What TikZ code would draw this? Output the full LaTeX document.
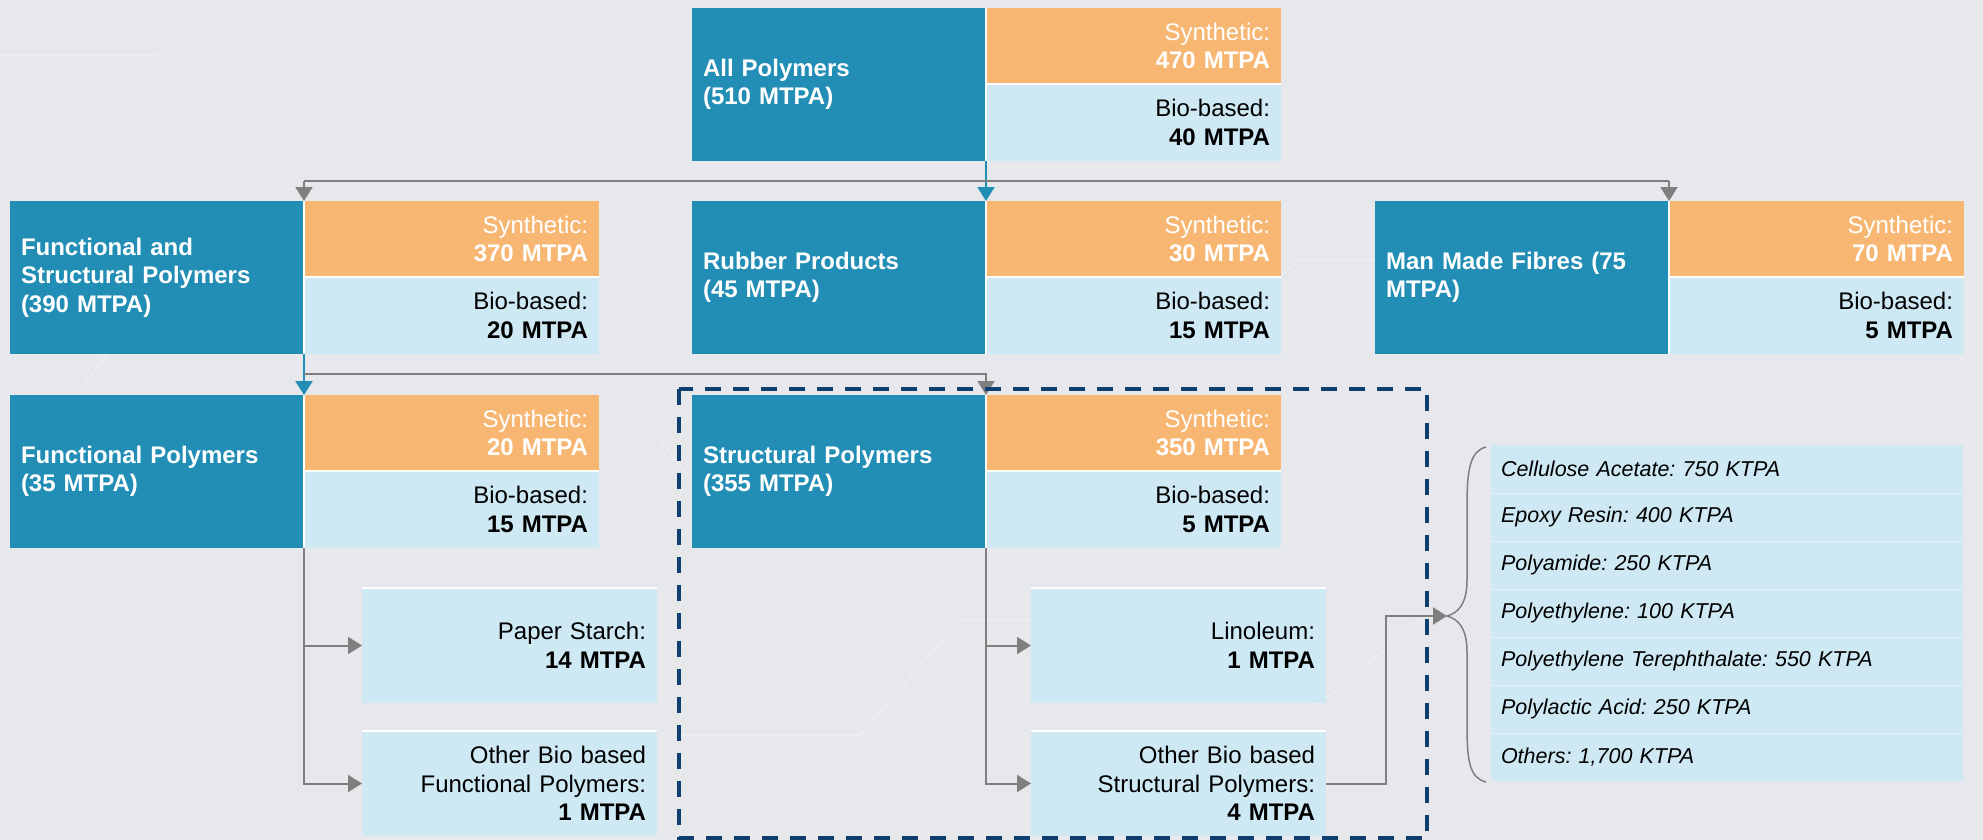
\documentclass[tikz,border=0pt]{standalone}
\usepackage{fontspec}
\setmainfont{Liberation Sans}
\usetikzlibrary{arrows.meta,calc}
\frenchspacing
\definecolor{bg}{RGB}{230,232,236}
\definecolor{dk}{RGB}{34,142,182}
\definecolor{og}{RGB}{247,183,115}
\definecolor{lb}{RGB}{206,233,244}
\definecolor{gr}{RGB}{127,127,127}
\definecolor{nv}{RGB}{14,63,110}
\newcommand\fsmain{\fontsize{24pt}{28.5pt}\selectfont}
\newcommand\fslist{\fontsize{21.5pt}{24pt}\selectfont}
\tikzset{
  darkbox/.style={anchor=north west, fill=dk, text=white, font=\bfseries\fsmain,
    minimum width=294pt, minimum height=#1, text width=272pt, inner xsep=11pt,
    inner ysep=0pt, outer sep=0pt, align=left},
  synbox/.style={anchor=north west, fill=og, text=white, font=\fsmain,
    minimum width=295pt, minimum height=76pt, text width=273pt, inner xsep=11pt,
    inner ysep=0pt, outer sep=0pt, align=right},
  biobox/.style={anchor=north west, fill=lb, text=black, font=\fsmain,
    minimum width=295pt, minimum height=77pt, text width=273pt, inner xsep=11pt,
    inner ysep=0pt, outer sep=0pt, align=right},
  childbox/.style={anchor=north west, fill=lb, text=black, font=\fsmain,
    minimum width=295pt, minimum height=#1, text width=273pt, inner xsep=11pt,
    inner ysep=0pt, outer sep=0pt, align=right},
  listrow/.style={anchor=north west, fill=lb, text=black, font=\itshape\fslist,
    minimum width=472pt, minimum height=48pt, text width=452pt, inner xsep=10pt,
    inner ysep=0pt, outer sep=0pt, align=left},
  sepline/.style={draw=white, line width=1.6pt},
  topline/.style={draw=white, line width=2.2pt},
  garrow/.style={draw=gr, line width=2pt, -{Triangle[width=17pt,length=14pt]}},
  barrow/.style={draw=dk, line width=2pt, -{Triangle[width=17pt,length=14pt]}},
  gline/.style={draw=gr, line width=2pt},
  frame/.style={draw=nv, line width=3.2pt, dash pattern=on 16pt off 12pt},
  bracestyle/.style={draw=gr, line width=1.5pt},
  dotsep/.style={draw=white, line width=0.8pt, dash pattern=on 1pt off 1.5pt},
}
\newcommand\polybox[6]{%
  \node[darkbox=153pt] (#1) at (#2,#3) {#4};
  \node[synbox] (#1s) at (#1.north east) {Synthetic:\\\textbf{#5}};
  \node[biobox] (#1b) at (#1s.south west) {Bio-based:\\\textbf{#6}};
  \draw[sepline] (#1.north east) -- (#1.south east);
  \draw[sepline] (#1s.south west) -- (#1s.south east);
}
\begin{document}
\begin{tikzpicture}[x=1pt,y=-1pt]
\fill[bg] (0,0) rectangle (1983,840);
\useasboundingbox (0,0) rectangle (1983,840);

% faint background traces
\begin{scope}[draw=white, opacity=0.22, line width=2pt]
  \draw (0,55) -- (155,55) -- (290,190);
  \draw (1090,300) -- (1250,300) -- (1300,260) -- (1400,260);
  \draw (660,440) -- (700,490) -- (900,490) -- (960,440);
  \draw (680,735) -- (860,735) -- (960,620) -- (1030,620);
  \draw (1300,720) -- (1420,620);
  \draw (150,300) -- (80,390);
\end{scope}

% row 1
\polybox{ap}{692}{8}{All Polymers\\(510 MTPA)}{470 MTPA}{40 MTPA}
% row 2
\polybox{fsp}{10}{201}{Functional and\\Structural Polymers\\(390 MTPA)}{370 MTPA}{20 MTPA}
\polybox{rp}{692}{201}{Rubber Products\\(45 MTPA)}{30 MTPA}{15 MTPA}
\polybox{mmf}{1375}{201}{Man Made Fibres (75\\MTPA)}{70 MTPA}{5 MTPA}
% row 3
\polybox{fp}{10}{395}{Functional Polymers\\(35 MTPA)}{20 MTPA}{15 MTPA}
\polybox{sp}{692}{395}{Structural Polymers\\(355 MTPA)}{350 MTPA}{5 MTPA}

% children
\node[childbox=115pt] (ps) at (362,588) {Paper Starch:\\\textbf{14 MTPA}};
\node[childbox=105pt] (obf) at (362,731) {Other Bio based\\Functional Polymers:\\\textbf{1 MTPA}};
\node[childbox=115pt] (lin) at (1031,588) {Linoleum:\\\textbf{1 MTPA}};
\node[childbox=105pt] (obs) at (1031,731) {Other Bio based\\Structural Polymers:\\\textbf{4 MTPA}};
\foreach \n in {ps,obf,lin,obs} \draw[topline] (\n.north west) -- (\n.north east);

% list
\node[listrow] (l1) at (1491,445) {Cellulose Acetate: 750 KTPA};
\node[listrow] (l2) at (l1.south west) {Epoxy Resin: 400 KTPA};
\node[listrow] (l3) at (l2.south west) {Polyamide: 250 KTPA};
\node[listrow] (l4) at (l3.south west) {Polyethylene: 100 KTPA};
\node[listrow] (l5) at (l4.south west) {Polyethylene Terephthalate: 550 KTPA};
\node[listrow] (l6) at (l5.south west) {Polylactic Acid: 250 KTPA};
\node[listrow] (l7) at (l6.south west) {Others: 1,700 KTPA};
\foreach \n in {l1,l2,l3,l4,l5,l6} \draw[dotsep] (\n.south west) -- (\n.south east);

% brace
\coordinate (brtip) at (1447,616);
\draw[bracestyle] (1486,447) .. controls (1470,451) and (1467,470) .. (1467,505)
  -- (1467,580) .. controls (1467,604) and (1458,613) .. (brtip)
  .. controls (1458,619) and (1467,628) .. (1467,652)
  -- (1467,727) .. controls (1467,762) and (1470,778) .. (1486,782);

% connectors row1 -> row2
\coordinate (j1) at (987,181);
\draw[barrow] (ap.south east) -- (rp.north east);
\draw[gline] (j1) -- (j1 -| fsp.north east);
\draw[gline] (j1) -- (j1 -| mmf.north east);
\draw[garrow] (j1 -| fsp.north east) -- (fsp.north east);
\draw[garrow] (j1 -| mmf.north east) -- (mmf.north east);

% connectors row2 -> row3
\coordinate (j2) at (304,374);
\draw[barrow] (fsp.south east) -- (fp.north east);
\draw[garrow] (j2) -| (sp.north east);

% children connectors
\draw[garrow] (fp.south east) |- (obf.west);
\draw[garrow] (ps.west -| fp.south east) -- (ps.west);
\draw[garrow] (sp.south east) |- (obs.west);
\draw[garrow] (lin.west -| sp.south east) -- (lin.west);
\draw[garrow] (obs.east) -- ++(60,0) |- (brtip);

% dashed frame
\draw[frame] (679,389) rectangle (1427,838);
\end{tikzpicture}
\end{document}
